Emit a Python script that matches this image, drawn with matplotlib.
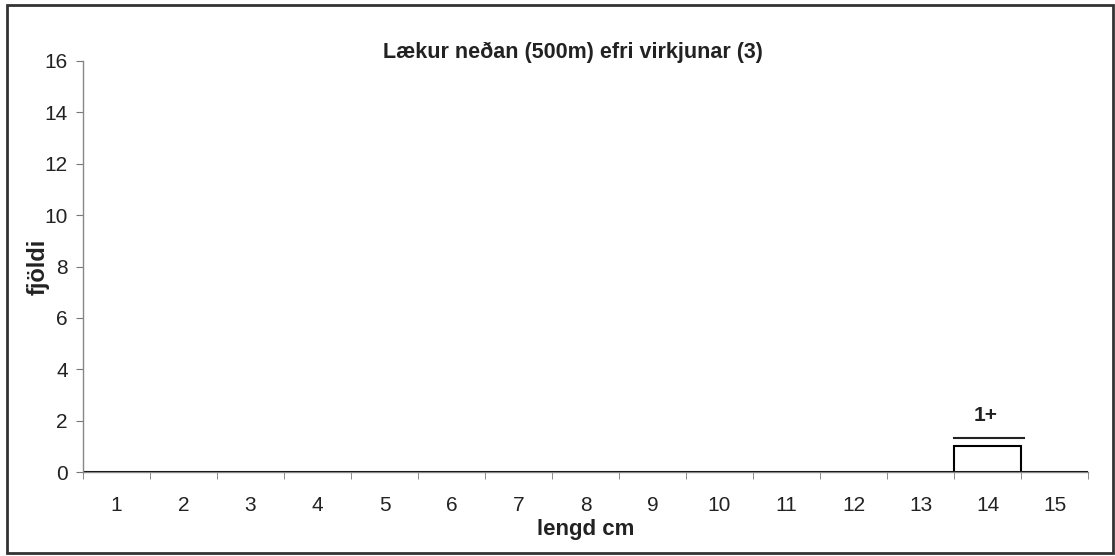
import matplotlib.pyplot as plt
from matplotlib.patches import Rectangle

plt.rcParams["font.family"] = ["Liberation Sans", "DejaVu Sans"]

lengths = list(range(1, 16))
counts = [0, 0, 0, 0, 0, 0, 0, 0, 0, 0, 0, 0, 0, 1, 0]
age_label = "1+"
title = "Lækur neðan (500m) efri virkjunar (3)"

fig = plt.figure(figsize=(11.15, 5.56), dpi=100)
fig.patches.append(Rectangle((0.006, 0.006), 0.992, 0.985, transform=fig.transFigure,
                             fill=False, edgecolor="#333333", linewidth=2))

ax = fig.add_axes([0.0744, 0.151, 0.9014, 0.7393])
ax.bar(lengths, counts, width=1.0, color="white", edgecolor="black", linewidth=1.5)

# bracket and label over the age group bar
idx = counts.index(max(counts))
x0 = lengths[idx]
ax.plot([x0 - 0.5, x0 + 0.55], [counts[idx] + 0.32, counts[idx] + 0.32],
        color="#222222", linewidth=1.5, clip_on=False)
ax.text(x0 - 0.03, counts[idx] + 1.22, age_label, ha="center", va="center",
        fontsize=15, fontweight="bold", color="#222222")

ax.set_xlim(0.5, 15.5)
ax.set_ylim(0, 16)
ax.set_yticks(range(0, 17, 2))
ax.set_xticks(lengths)
ax.set_xticks([v - 0.5 for v in lengths] + [15.5], minor=True)
ax.tick_params(axis="x", which="major", length=0, pad=17, labelsize=15, colors="#222222")
ax.tick_params(axis="x", which="minor", length=5, color="#777777")
ax.tick_params(axis="y", length=5, color="#777777", labelsize=15, labelcolor="#222222", pad=6)

for side in ["top", "right"]:
    ax.spines[side].set_visible(False)
for side in ["left", "bottom"]:
    ax.spines[side].set_color("#888888")
    ax.spines[side].set_linewidth(1)

ax.set_xlabel("lengd cm", fontsize=16, fontweight="bold", labelpad=3, color="#222222")
ax.set_ylabel("fjöldi", fontsize=17, fontweight="bold", color="#222222")
ax.yaxis.set_label_coords(-0.033, 0.5)

fig.text(0.514, 0.906, title, ha="center", va="center", fontsize=15.5,
         fontweight="bold", color="#222222")

fig.savefig("out.png", dpi=100)
